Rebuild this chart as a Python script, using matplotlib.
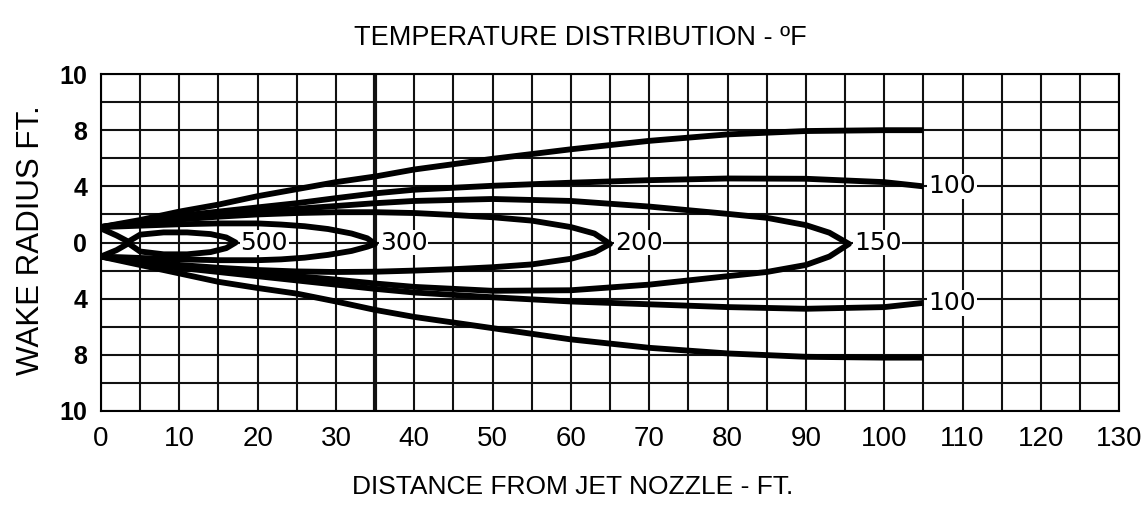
import numpy as np
import matplotlib
matplotlib.use("Agg")
from matplotlib import pyplot as plt

# ---------------- data: distance (ft) vs wake radius in chart divisions ----------------
# outer boundary (unlabeled), open at 105 ft
outer_x = [0, 5, 10, 15, 20, 25, 30, 35, 40, 50, 60, 70, 80, 90, 100, 105]
outer_top = [0.55, 0.8, 1.1, 1.35, 1.65, 1.9, 2.15, 2.35, 2.6, 2.98, 3.32, 3.62, 3.85, 3.97, 4.0, 4.0]
outer_bot = [-0.5, -0.8, -1.1, -1.4, -1.62, -1.82, -2.1, -2.4, -2.65, -3.05, -3.45, -3.75, -3.95, -4.07, -4.1, -4.1]

# 100 F, open at 105 ft
t100_x = [0, 5, 10, 15, 20, 25, 30, 35, 40, 50, 60, 70, 80, 90, 100, 105]
t100_top = [0.55, 0.75, 0.95, 1.1, 1.25, 1.4, 1.58, 1.75, 1.88, 2.02, 2.13, 2.22, 2.28, 2.27, 2.15, 2.0]
t100_bot = [-0.5, -0.72, -0.9, -1.05, -1.2, -1.35, -1.5, -1.65, -1.78, -1.95, -2.1, -2.2, -2.3, -2.36, -2.3, -2.15]

# 150 F
t150_x = [0, 5, 10, 15, 20, 25, 30, 35, 40, 50, 60, 70, 80, 85, 90, 93, 95.5]
t150_top = [0.55, 0.72, 0.88, 1.0, 1.1, 1.2, 1.3, 1.4, 1.48, 1.55, 1.48, 1.28, 1.02, 0.88, 0.62, 0.35, -0.05]
t150_bot = [-0.5, -0.68, -0.83, -0.96, -1.08, -1.2, -1.32, -1.46, -1.58, -1.72, -1.7, -1.5, -1.2, -1.05, -0.8, -0.5, -0.05]

# 200 F
t200_x = [0, 5, 10, 15, 20, 25, 30, 35, 40, 45, 50, 55, 60, 63, 65]
t200_top = [0.55, 0.7, 0.82, 0.92, 1.0, 1.05, 1.08, 1.08, 1.05, 0.98, 0.9, 0.78, 0.55, 0.32, -0.05]
t200_bot = [-0.5, -0.66, -0.8, -0.9, -0.98, -1.03, -1.05, -1.04, -1.0, -0.95, -0.88, -0.78, -0.58, -0.35, -0.05]

# 300 F
t300_x = [0, 5, 10, 15, 20, 23, 26, 29, 32, 34, 35]
t300_top = [0.55, 0.6, 0.65, 0.68, 0.68, 0.64, 0.58, 0.48, 0.32, 0.15, -0.05]
t300_bot = [-0.5, -0.55, -0.6, -0.63, -0.63, -0.6, -0.54, -0.44, -0.3, -0.15, -0.05]

# 500 F
t500_x = [0, 2, 3.5, 5, 8, 11, 14, 16, 17.2]
t500_top = [0.5, 0.25, 0.03, 0.28, 0.36, 0.36, 0.3, 0.18, 0.0]
t500_bot = [-0.5, -0.27, -0.03, -0.32, -0.42, -0.42, -0.34, -0.2, 0.0]

x_ticks = [0, 10, 20, 30, 40, 50, 60, 70, 80, 90, 100, 110, 120, 130]
y_tick_pos = [-6, -4, -2, 0, 2, 4, 6]
y_tick_labels = ["10", "8", "4", "0", "4", "8", "10"]

narrow = ["DejaVu Sans Condensed", "Liberation Sans Narrow", "Liberation Sans"]

fig = plt.figure(figsize=(11.42, 5.28), dpi=100)
ax = fig.add_axes([0.0884, 0.2216, 0.8916, 0.6382])
ax.set_xlim(0, 130)
ax.set_ylim(-6, 6)

# ---------------- grid ----------------
for gx in np.arange(0, 131, 5):
    ax.axvline(gx, color="#111111", lw=3.0 if gx == 35 else 1.5, zorder=1)
for gy in np.arange(-6, 7, 1):
    ax.axhline(gy, color="#111111", lw=1.5, zorder=1)
for spine in ax.spines.values():
    spine.set_linewidth(1.5)

# ---------------- contours ----------------
def closed(xs, top, bot):
    xs = np.asarray(xs, dtype=float)
    return np.concatenate([xs, xs[::-1]]), np.concatenate([top, bot[::-1]])

LW = 4.2
for xs, top, bot in [(outer_x, outer_top, outer_bot), (t100_x, t100_top, t100_bot)]:
    ax.plot(xs, top, color="black", lw=LW, solid_capstyle="butt", solid_joinstyle="round", zorder=3)
    ax.plot(xs, bot, color="black", lw=LW, solid_capstyle="butt", solid_joinstyle="round", zorder=3)

for xs, top, bot in [(t150_x, t150_top, t150_bot), (t200_x, t200_top, t200_bot),
                     (t300_x, t300_top, t300_bot), (t500_x, t500_top, t500_bot)]:
    cx, cy = closed(xs, top, bot)
    ax.plot(cx, cy, color="black", lw=LW, solid_joinstyle="round", zorder=3)

# ---------------- contour labels ----------------
box = dict(facecolor="white", edgecolor="none", pad=0.5)
labels = [("500", t500_x[-1], t500_top[-1]), ("300", t300_x[-1], 0),
          ("200", t200_x[-1], 0), ("150", t150_x[-1], 0),
          ("100", t100_x[-1], t100_top[-1]), ("100", t100_x[-1], t100_bot[-1])]
for txt, lx, ly in labels:
    ax.annotate(txt, (lx, ly), xytext=(3.5, 0), textcoords="offset points",
                ha="left", va="center", fontsize=18, family="DejaVu Sans",
                bbox=box, zorder=4)

# ---------------- axes text ----------------
ax.set_xticks(x_ticks)
ax.set_xticklabels([str(v) for v in x_ticks], fontsize=20, family=narrow)
ax.set_yticks(y_tick_pos)
ax.set_yticklabels(y_tick_labels, fontsize=18, family=narrow, fontweight="bold")
ax.tick_params(length=0)
ax.tick_params(axis="x", pad=11)
ax.tick_params(axis="y", pad=10)

fig.text(0.508, 0.928, "TEMPERATURE DISTRIBUTION - ºF", ha="center", va="center",
         fontsize=19.5, family=narrow)
fig.text(0.501, 0.078, "DISTANCE FROM JET NOZZLE - FT.", ha="center", va="center",
         fontsize=19, family=narrow)
fig.text(0.027, 0.545, "WAKE RADIUS FT.", ha="center", va="center", rotation=90,
         fontsize=22.5, family=narrow)

fig.savefig("out.png", dpi=100, facecolor="white")
